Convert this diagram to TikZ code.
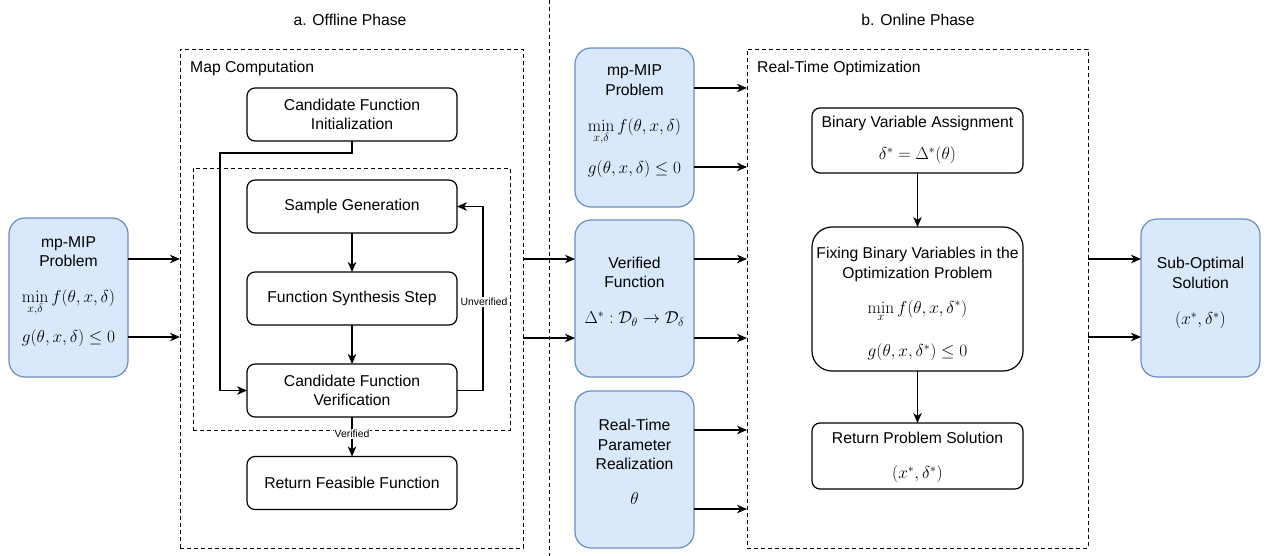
\documentclass[tikz,border=0pt]{standalone}
\usepackage[no-math]{fontspec}
\setmainfont{Liberation Sans}
\usetikzlibrary{arrows.meta}
\definecolor{bluefill}{HTML}{DAE8FC}
\definecolor{blueline}{HTML}{6C8EBF}
\tikzset{
  blk/.style={draw, line width=1.2pt, rounded corners=8pt, fill=white, outer sep=0pt,
              font=\fontsize{15.7}{19.5}\selectfont, align=center, inner sep=0pt},
  bluebox/.style={draw=blueline, fill=bluefill, line width=1.2pt, rounded corners=16pt, outer sep=0pt},
  frame/.style={draw, line width=0.9pt, dash pattern=on 4pt off 3pt, outer sep=0pt},
  arr/.style={-{Stealth[length=10pt,width=8.5pt,inset=3pt]}, line width=1.2pt},
  txt/.style={font=\fontsize{15.7}{19.5}\selectfont, inner sep=0pt, align=center},
  mth/.style={font=\fontsize{16.5}{20}\selectfont, inner sep=0pt},
  small/.style={font=\fontsize{10.4}{12}\selectfont, fill=white, inner sep=1pt},
}
\begin{document}
\begin{tikzpicture}[x=1pt, y=-1pt]
\useasboundingbox (0,0) rectangle (1273,556);

% phase separator and titles
\coordinate (septop) at (549,0);
\coordinate (sepbot) at (549,556);
\draw[frame] (septop) -- (sepbot);
\node[txt] (offt) at (350,20) {a. Offline Phase};
\node[txt] (onlt) at (918,20) {b. Online Phase};

% ---- offline phase: map computation ----
\node[frame, minimum width=343pt, minimum height=499pt] (mapc) at (351.5,298.5) {};
\node[txt, anchor=west] (mapt) at (190,68) {Map Computation};
\node[frame, minimum width=317pt, minimum height=262pt] (loopbox) at (351.5,299) {};

\node[blk, minimum width=210pt, minimum height=53pt] (init) at (352,114.5) {Candidate Function\\Initialization};
\node[blk, minimum width=210pt, minimum height=53pt] (samp) at (352,206.5) {Sample Generation};
\node[blk, minimum width=210pt, minimum height=53pt] (synth) at (352,298.5) {Function Synthesis Step};
\node[blk, minimum width=210pt, minimum height=53pt] (verif) at (352,390.5) {Candidate Function\\Verification};
\node[blk, minimum width=210pt, minimum height=53pt] (retf) at (352,483) {Return Feasible Function};

\coordinate (bend) at (220,153);
\coordinate (loopx) at (483,0);
\draw[arr] (init.south) |- (bend) |- (verif.west);
\draw[arr] (samp.south) -- (synth.north);
\draw[arr] (synth.south) -- (verif.north);
\draw[arr] (verif.east) -| (loopx |- samp.east) -- (samp.east);
\node[small] (unv) at (484,302) {Unverified};
\draw[arr] (verif.south) -- (retf.north) node[small, pos=0.43] (ver) {Verified};

% ---- input problem ----
\node[bluebox, minimum width=119pt, minimum height=159pt] (lmip) at (68.5,297.5) {};
\node[txt] (lmipt) at (68.5,251.5) {mp-MIP\\Problem};
\node[mth, anchor=base] (lmipf) at (68.5,302) {$\displaystyle\min_{x,\delta} f(\theta,x,\delta)$};
\node[mth] (lmipg) at (68.5,338) {$g(\theta,x,\delta)\leq 0$};
\draw[arr] (lmip.east |- 0,259) -- (mapc.west |- 0,259);
\draw[arr] (lmip.east |- 0,337) -- (mapc.west |- 0,337);

% ---- online phase: inputs ----
\node[bluebox, minimum width=119pt, minimum height=159pt] (mmip) at (634.5,127.5) {};
\node[txt] (mmipt) at (634.5,80) {mp-MIP\\Problem};
\node[mth, anchor=base] (mmipf) at (634.5,131.5) {$\displaystyle\min_{x,\delta} f(\theta,x,\delta)$};
\node[mth] (mmipg) at (634.5,169) {$g(\theta,x,\delta)\leq 0$};

\node[bluebox, minimum width=119pt, minimum height=157pt] (verf) at (634.5,298.5) {};
\node[txt] (verft) at (634.5,272.5) {Verified\\Function};
\node[mth] (verfm) at (634.5,319) {$\Delta^*:\mathcal{D}_\theta\rightarrow\mathcal{D}_\delta$};

\node[bluebox, minimum width=119pt, minimum height=157pt] (rtp) at (634.5,469.5) {};
\node[txt] (rtpt) at (634.5,444.5) {Real-Time\\Parameter\\Realization};
\node[mth] (rtpm) at (634.5,498) {$\theta$};

\draw[arr] (mapc.east |- 0,259) -- (verf.west |- 0,259);
\draw[arr] (mapc.east |- 0,338) -- (verf.west |- 0,338);

% ---- online phase: real-time optimization ----
\node[frame, minimum width=341pt, minimum height=499pt] (rto) at (917.5,298.5) {};
\node[txt, anchor=west] (rtot) at (757,68) {Real-Time Optimization};

\draw[arr] (mmip.east |- 0,88) -- (rto.west |- 0,88);
\draw[arr] (mmip.east |- 0,167) -- (rto.west |- 0,167);
\draw[arr] (verf.east |- 0,259) -- (rto.west |- 0,259);
\draw[arr] (verf.east |- 0,338) -- (rto.west |- 0,338);
\draw[arr] (rtp.east |- 0,430) -- (rto.west |- 0,430);
\draw[arr] (rtp.east |- 0,509) -- (rto.west |- 0,509);

\node[blk, minimum width=211pt, minimum height=65pt] (bva) at (917.5,140.5) {};
\node[txt] (bvat) at (917.5,123) {Binary Variable Assignment};
\node[mth] (bvam) at (917.5,155) {$\delta^*=\Delta^*(\theta)$};

\node[blk, rounded corners=20pt, minimum width=211pt, minimum height=144pt] (fix) at (917.5,299) {};
\node[txt] (fixt) at (917.5,264.5) {Fixing Binary Variables in the\\Optimization Problem};
\node[mth, anchor=base] (fixf) at (917.5,313.5) {$\displaystyle\min_{x} f(\theta,x,\delta^*)$};
\node[mth] (fixg) at (917.5,352) {$g(\theta,x,\delta^*)\leq 0$};

\node[blk, minimum width=211pt, minimum height=66pt] (rps) at (917.5,456) {};
\node[txt] (rpst) at (917.5,438) {Return Problem Solution};
\node[mth] (rpsm) at (917.5,474) {$(x^*,\delta^*)$};

\draw[arr] (bva.south) -- (fix.north);
\draw[arr] (fix.south) -- (rps.north);

% ---- output ----
\node[bluebox, minimum width=119pt, minimum height=158pt] (sub) at (1200.5,298) {};
\node[txt] (subt) at (1200.5,273) {Sub-Optimal\\Solution};
\node[mth] (subm) at (1200.5,320) {$(x^*,\delta^*)$};

\draw[arr] (rto.east |- 0,259) -- (sub.west |- 0,259);
\draw[arr] (rto.east |- 0,337) -- (sub.west |- 0,337);
\end{tikzpicture}
\end{document}
